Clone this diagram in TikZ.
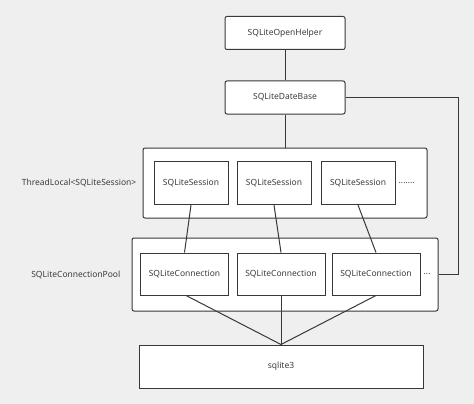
\documentclass[tikz,border=0pt]{standalone}
\usepackage{fontspec}
\setmainfont{Noto Sans}
\usepackage{tikz}
\usetikzlibrary{calc}
\usetikzlibrary{positioning}
\definecolor{bggray}{HTML}{EFEFEF}
\definecolor{linegray}{HTML}{383838}
\definecolor{textgray}{HTML}{3C3C3C}

\begin{document}
\begin{tikzpicture}[x=1pt, y=-1pt,
    every node/.style={text=textgray, font=\fontsize{8.5}{10}\selectfont},
    link/.style={draw=linegray, line width=1pt},
    topbox/.style={link, fill=white, rounded corners=2pt, minimum width=120pt, minimum height=33pt},
    groupbox/.style={link, fill=white, rounded corners=2pt},
    itembox/.style={link, fill=white, minimum height=43pt},
    sidelabel/.style={inner sep=0pt}]
  \fill[bggray] (0,0) rectangle (474,404);
  \node[topbox] (helper) at (285,33) {SQLiteOpenHelper};
  \node[topbox] (database) at (285,97.5) {SQLiteDateBase};
  \node[groupbox, minimum width=284pt, minimum height=70pt] (threadlocal) at (285,183) {};
  \node[itembox, minimum width=74pt] (session1) at (191,183) {SQLiteSession};
  \node[itembox, minimum width=74pt] (session2) at (274,183) {SQLiteSession};
  \node[itembox, minimum width=74pt] (session3) at (358,183) {SQLiteSession};
  \node[sidelabel, right=3pt of session3] (sessiondots) {.......};
  \node[sidelabel, left=6pt of threadlocal] (threadlabel) {ThreadLocal<SQLiteSession>};
  \node[groupbox, minimum width=306pt, minimum height=73pt] (pool) at (285,274.5) {};
  \node[itembox, minimum width=88pt, minimum height=42pt] (conn1) at (184.5,274) {SQLiteConnection};
  \node[itembox, minimum width=88pt, minimum height=42pt] (conn2) at (281,274) {SQLiteConnection};
  \node[itembox, minimum width=88pt, minimum height=42pt] (conn3) at (376,274) {SQLiteConnection};
  \node[sidelabel, right=3pt of conn3] (conndots) {...};
  \node[sidelabel, left=11pt of pool] (poollabel) {SQLiteConnectionPool};
  \node[itembox, minimum width=284pt] (sqlite) at (281,366.5) {sqlite3};
  \draw[link] (helper) -- (database);
  \draw[link] (database) -- (threadlocal);
  \draw[link] (database.east) -| ([xshift=20pt]pool.east) -- (pool.east);
  \draw[link] (session1.south) -- (conn1.north);
  \draw[link] (session2.south) -- (conn2.north);
  \draw[link] (session3.south) -- (conn3.north);
  \draw[link] ([xshift=1.5pt]conn1.south) -- (sqlite.north);
  \draw[link] (conn2.south) -- (sqlite.north);
  \draw[link] (conn3.south) -- (sqlite.north);
\end{tikzpicture}
\end{document}
